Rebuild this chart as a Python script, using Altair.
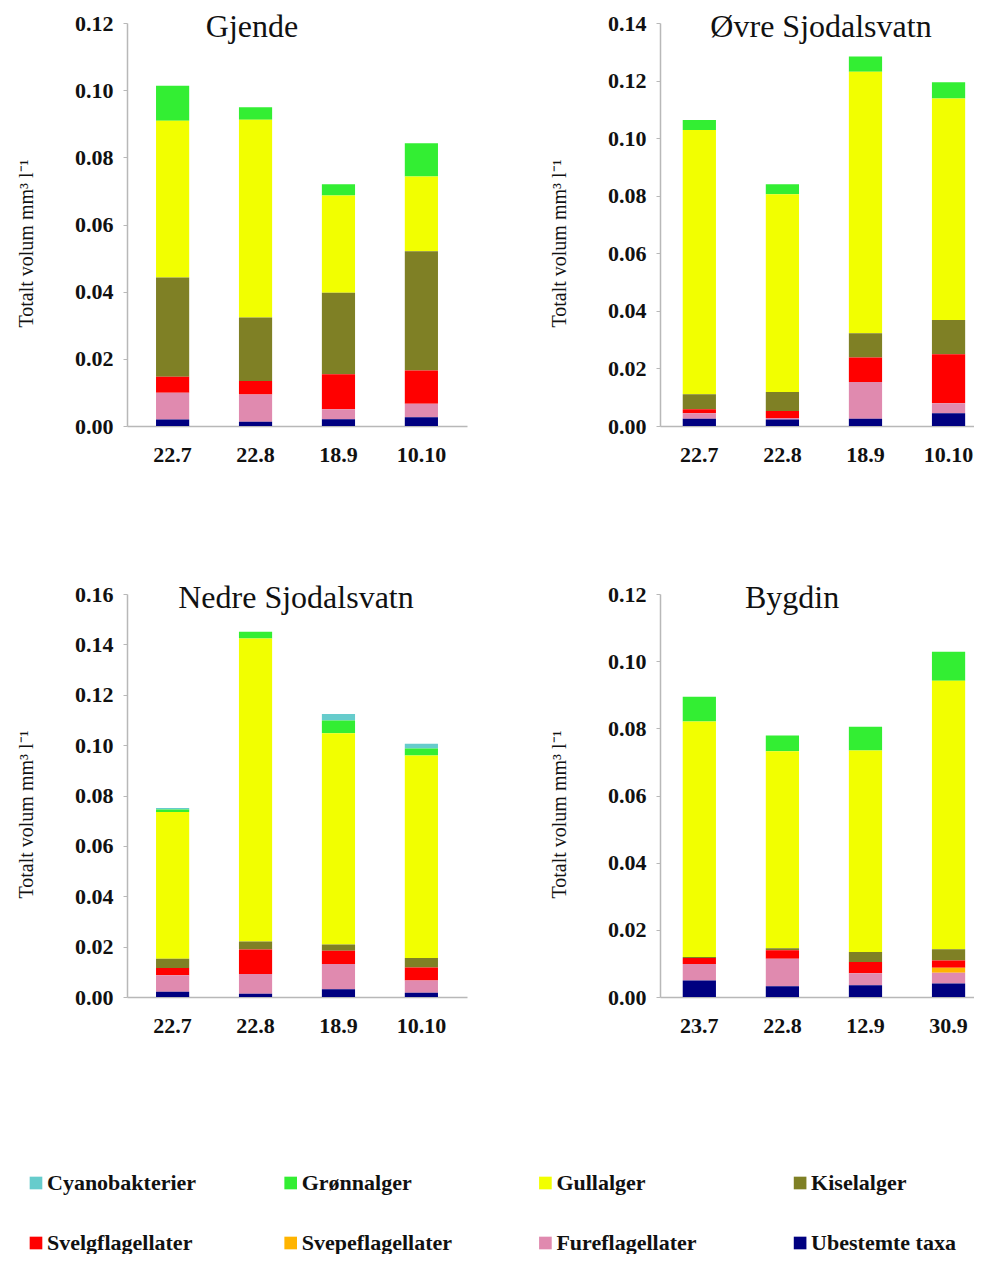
import altair as alt
import pandas as pd

# ---------------- data ----------------
groups = ["Cyanobakterier", "Grønnalger", "Gullalger", "Kiselalger",
          "Svelgflagellater", "Svepeflagellater", "Fureflagellater", "Ubestemte taxa"]
colors = ["#66cccc", "#33ee33", "#f2ff00", "#7f8025",
          "#ff0000", "#ffb400", "#e08aaf", "#000080"]
stack_order = list(reversed(groups))  # bottom of stack first

y_title = "Totalt volum mm³ l⁻¹"

# Gjende
gjende_dates = ["22.7", "22.8", "18.9", "10.10"]
gjende_ticks = [0.00, 0.02, 0.04, 0.06, 0.08, 0.10, 0.12]
gjende = {
    "Ubestemte taxa":   [0.0019, 0.0013, 0.0020, 0.0026],
    "Fureflagellater":  [0.0080, 0.0081, 0.0030, 0.0040],
    "Svepeflagellater": [0.0, 0.0, 0.0, 0.0],
    "Svelgflagellater": [0.0048, 0.0040, 0.0104, 0.0099],
    "Kiselalger":       [0.0295, 0.0189, 0.0243, 0.0355],
    "Gullalger":        [0.0467, 0.0589, 0.0289, 0.0223],
    "Grønnalger":       [0.0104, 0.0037, 0.0034, 0.0099],
    "Cyanobakterier":   [0.0, 0.0, 0.0, 0.0],
}

# Øvre Sjodalsvatn
ovre_dates = ["22.7", "22.8", "18.9", "10.10"]
ovre_ticks = [0.00, 0.02, 0.04, 0.06, 0.08, 0.10, 0.12, 0.14]
ovre = {
    "Ubestemte taxa":   [0.0025, 0.0023, 0.0025, 0.0044],
    "Fureflagellater":  [0.0019, 0.0005, 0.0128, 0.0035],
    "Svepeflagellater": [0.0, 0.0, 0.0, 0.0],
    "Svelgflagellater": [0.0014, 0.0024, 0.0085, 0.0170],
    "Kiselalger":       [0.0052, 0.0066, 0.0084, 0.0119],
    "Gullalger":        [0.0918, 0.0687, 0.0909, 0.0770],
    "Grønnalger":       [0.0035, 0.0035, 0.0053, 0.0056],
    "Cyanobakterier":   [0.0, 0.0, 0.0, 0.0],
}

# Nedre Sjodalsvatn
nedre_dates = ["22.7", "22.8", "18.9", "10.10"]
nedre_ticks = [0.00, 0.02, 0.04, 0.06, 0.08, 0.10, 0.12, 0.14, 0.16]
nedre = {
    "Ubestemte taxa":   [0.0021, 0.0013, 0.0031, 0.0017],
    "Fureflagellater":  [0.0065, 0.0078, 0.0100, 0.0049],
    "Svepeflagellater": [0.0, 0.0, 0.0, 0.0],
    "Svelgflagellater": [0.0029, 0.0098, 0.0053, 0.0051],
    "Kiselalger":       [0.0037, 0.0031, 0.0024, 0.0038],
    "Gullalger":        [0.0582, 0.1203, 0.0839, 0.0804],
    "Grønnalger":       [0.0010, 0.0027, 0.0051, 0.0028],
    "Cyanobakterier":   [0.0006, 0.0, 0.0026, 0.0018],
}

# Bygdin
bygdin_dates = ["23.7", "22.8", "12.9", "30.9"]
bygdin_ticks = [0.00, 0.02, 0.04, 0.06, 0.08, 0.10, 0.12]
bygdin = {
    "Ubestemte taxa":   [0.0049, 0.0032, 0.0035, 0.0040],
    "Fureflagellater":  [0.0049, 0.0082, 0.0036, 0.0032],
    "Svepeflagellater": [0.0, 0.0, 0.0, 0.0015],
    "Svelgflagellater": [0.0018, 0.0025, 0.0033, 0.0022],
    "Kiselalger":       [0.0003, 0.0006, 0.0030, 0.0033],
    "Gullalger":        [0.0701, 0.0587, 0.0600, 0.0800],
    "Grønnalger":       [0.0074, 0.0047, 0.0071, 0.0086],
    "Cyanobakterier":   [0.0, 0.0, 0.0, 0.0],
}

FONT = "Liberation Serif"
AXIS_GREY = "#b8b8b8"
color_scale = alt.Scale(domain=groups, range=colors)


def panel(name, dates, values, ticks, width, pad_outer, align, title_cx):
    rows = []
    for g in groups:
        for d, v in zip(dates, values[g]):
            if v > 0:
                rows.append({"date": d, "group": g, "value": v,
                             "order": stack_order.index(g)})
    df = pd.DataFrame(rows)
    bars = alt.Chart(df).mark_bar().encode(
        x=alt.X("date:N", sort=dates,
                scale=alt.Scale(paddingInner=0.6, paddingOuter=pad_outer, align=align),
                axis=alt.Axis(title=None, labelAngle=0, labelFont=FONT, labelFontSize=22,
                              labelFontWeight="bold", labelColor="#111111", labelPadding=18,
                              ticks=False, tickSize=0, domainColor=AXIS_GREY, domainWidth=1.5)),
        y=alt.Y("value:Q", stack="zero",
                scale=alt.Scale(domain=[ticks[0], ticks[-1]], nice=False),
                axis=alt.Axis(title=y_title, values=ticks, format=".2f", grid=False,
                              labelFont=FONT, labelFontSize=22, labelFontWeight="bold",
                              labelColor="#111111", labelPadding=10,
                              tickSize=4, tickColor=AXIS_GREY, domainColor=AXIS_GREY,
                              domainWidth=1.5,
                              titleFont=FONT, titleFontSize=20, titleFontWeight="normal",
                              titleColor="#111111", titlePadding=38, titleY=220)),
        color=alt.Color("group:N", scale=color_scale, legend=None),
        order=alt.Order("order:Q", sort="ascending"),
    )
    title = alt.Chart(pd.DataFrame({"lake": [name]})).mark_text(
        font=FONT, fontSize=32, color="#111111", align="center", baseline="alphabetic"
    ).encode(text="lake:N", x=alt.value(title_cx), y=alt.value(14))
    return alt.layer(bars, title).properties(width=width, height=403)


p1 = panel("Gjende", gjende_dates, gjende, gjende_ticks, 340, 0.35, 0.5, 125)
p2 = panel("Øvre Sjodalsvatn", ovre_dates, ovre, ovre_ticks, 314, 0.19, 0.72, 161)
p3 = panel("Nedre Sjodalsvatn", nedre_dates, nedre, nedre_ticks, 340, 0.35, 0.5, 169)
p4 = panel("Bygdin", bygdin_dates, bygdin, bygdin_ticks, 314, 0.19, 0.72, 132)

# legend built from the group list (4 columns x 2 rows); its origin is aligned
# with the panels' plot origin, so the columns start left of it
leg = pd.DataFrame({"group": groups,
                    "col": [i % 4 for i in range(len(groups))],
                    "row": [i // 4 for i in range(len(groups))]})
leg_base = alt.Chart(leg).encode(
    x=alt.X("col:Q", scale=alt.Scale(domain=[0.3573, 3.616], nice=False, zero=False), axis=None),
    y=alt.Y("row:Q", scale=alt.Scale(domain=[-0.5, 1.1667], nice=False, zero=False, reverse=True),
            axis=None),
)
leg_sq = leg_base.mark_square(size=160, opacity=1).encode(
    color=alt.Color("group:N", scale=color_scale, legend=None))
leg_tx = leg_base.mark_text(align="left", baseline="middle", dx=11, font=FONT, fontSize=22,
                            fontWeight="bold", color="#111111").encode(text="group:N")
legend = alt.layer(leg_sq, leg_tx).properties(width=830, height=100)

row1 = alt.hconcat(p1, p2, spacing=82)
row2 = alt.hconcat(p3, p4, spacing=82)

chart = alt.vconcat(row1, row2, legend, spacing=117).properties(
    padding={"left": 8, "top": 3, "right": 0, "bottom": 0},
    background="white",
).configure_view(stroke=None)

chart.save("out.html", embed_options={"renderer": "svg", "actions": False})
